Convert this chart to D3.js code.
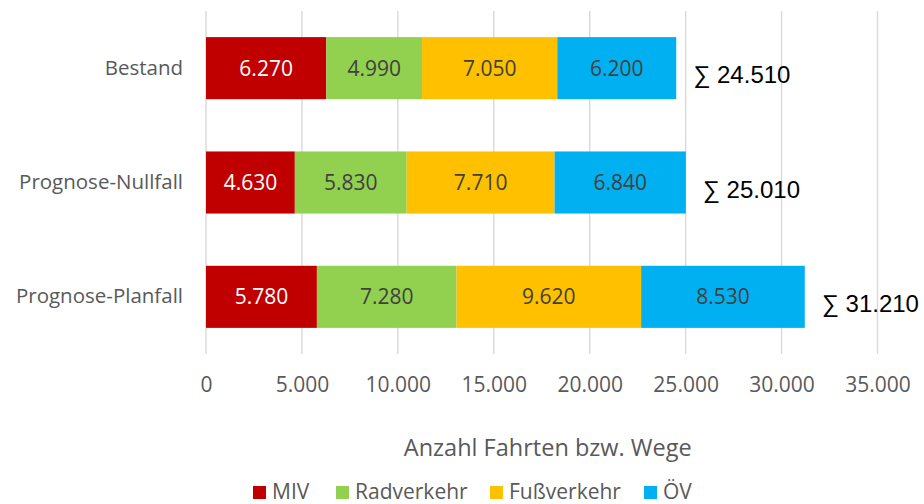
<!DOCTYPE html>
<html lang="de">
<head>
<meta charset="utf-8">
<script src="https://cdn.jsdelivr.net/npm/d3@7"></script>
<style>
  html, body { margin: 0; padding: 0; background: #fff; }
  svg { display: block; }
</style>
</head>
<body>
<svg id="chart" width="924" height="504"></svg>
<script>
// Trip counts per scenario and travel mode
const categories = ["Bestand", "Prognose-Nullfall", "Prognose-Planfall"];
const modes = ["MIV", "Radverkehr", "Fußverkehr", "ÖV"];
const miv        = [6270, 4630, 5780];
const radverkehr = [4990, 5830, 7280];
const fussverkehr = [7050, 7710, 9620];
const oev        = [6200, 6840, 8530];
const totals     = [24510, 25010, 31210];
const xTicks     = [0, 5000, 10000, 15000, 20000, 25000, 30000, 35000];
const axisTitle  = "Anzahl Fahrten bzw. Wege";

const modeColors = ["#C00000", "#92D050", "#FFC000", "#00B0F0"];
const labelColors = ["#ffffff", "#404040", "#404040", "#404040"];

const de = d3.formatLocale({ decimal: ",", thousands: ".", grouping: [3], currency: ["", " €"] });
const fmt = de.format(",d");

const rows = categories.map((c, i) => ({
  cat: c, MIV: miv[i], Radverkehr: radverkehr[i], "Fußverkehr": fussverkehr[i], "ÖV": oev[i], total: totals[i]
}));
const stacked = d3.stack().keys(modes)(rows);

const svg = d3.select("#chart");
const font = "'Open Sans', 'Noto Sans', sans-serif";

const x = d3.scaleLinear().domain([0, 35000]).range([206, 877.5]);
const y = d3.scaleBand().domain(categories).range([11, 354])
  .paddingInner(0.457).paddingOuter(0.2285);

// vertical gridlines
svg.append("g").selectAll("line").data(xTicks).join("line")
  .attr("x1", d => x(d)).attr("x2", d => x(d))
  .attr("y1", 11).attr("y2", 354)
  .attr("stroke", "#d9d9d9").attr("stroke-width", 1.4);

// x axis tick labels
const xAxis = d3.axisBottom(x).tickValues(xTicks).tickFormat(d => fmt(d)).tickSize(0).tickPadding(0);
const gx = svg.append("g").attr("transform", "translate(0,392)").call(xAxis);
gx.select(".domain").remove();
gx.selectAll("text").attr("font-family", font).attr("font-size", 21)
  .attr("fill", "#595959").attr("dy", 0);

// category labels
const yAxis = d3.axisLeft(y).tickSize(0).tickPadding(0);
const gy = svg.append("g").attr("transform", "translate(183,0)").call(yAxis);
gy.select(".domain").remove();
gy.selectAll("text").attr("font-family", font).attr("font-size", 20.5)
  .attr("fill", "#595959").attr("dy", "0.32em");

// stacked bars
const layers = svg.append("g").selectAll("g").data(stacked).join("g")
  .attr("fill", (d, i) => modeColors[i]);
layers.selectAll("rect").data(d => d).join("rect")
  .attr("x", d => x(d[0]))
  .attr("width", d => x(d[1]) - x(d[0]))
  .attr("y", d => y(d.data.cat))
  .attr("height", y.bandwidth());

// value labels inside segments
const lbl = svg.append("g").selectAll("g").data(stacked).join("g")
  .attr("fill", (d, i) => labelColors[i]);
lbl.selectAll("text").data(d => d.map(v => ({ v, key: d.key }))).join("text")
  .attr("x", d => (x(d.v[0]) + x(d.v[1])) / 2)
  .attr("y", d => y(d.v.data.cat) + y.bandwidth() / 2)
  .attr("dy", "0.35em")
  .attr("text-anchor", "middle")
  .attr("font-family", font).attr("font-size", 21)
  .text(d => fmt(d.v.data[d.key]));

// sum labels
svg.append("g").selectAll("text").data(rows).join("text")
  .attr("x", d => x(d.total) + 17)
  .attr("y", d => y(d.cat) + y.bandwidth() / 2 + 15)
  .attr("font-family", "'Liberation Sans', Arial, sans-serif")
  .attr("font-size", 24).attr("fill", "#000")
  .text(d => "∑ " + fmt(d.total));

// axis title
svg.append("text")
  .attr("x", (x(0) + x(35000)) / 2 + 6).attr("y", 456)
  .attr("text-anchor", "middle")
  .attr("font-family", font).attr("font-size", 23.5).attr("fill", "#595959")
  .text(axisTitle);

// legend
const legendX = [253, 336, 490, 644];
const lg = svg.append("g").selectAll("g").data(modes).join("g")
  .attr("transform", (d, i) => `translate(${legendX[i]},486)`);
lg.append("rect").attr("width", 13).attr("height", 13).attr("fill", (d, i) => modeColors[i]);
lg.append("text").attr("x", 19).attr("y", 13)
  .attr("font-family", font).attr("font-size", 21).attr("fill", "#595959")
  .text(d => d);
</script>
</body>
</html>
